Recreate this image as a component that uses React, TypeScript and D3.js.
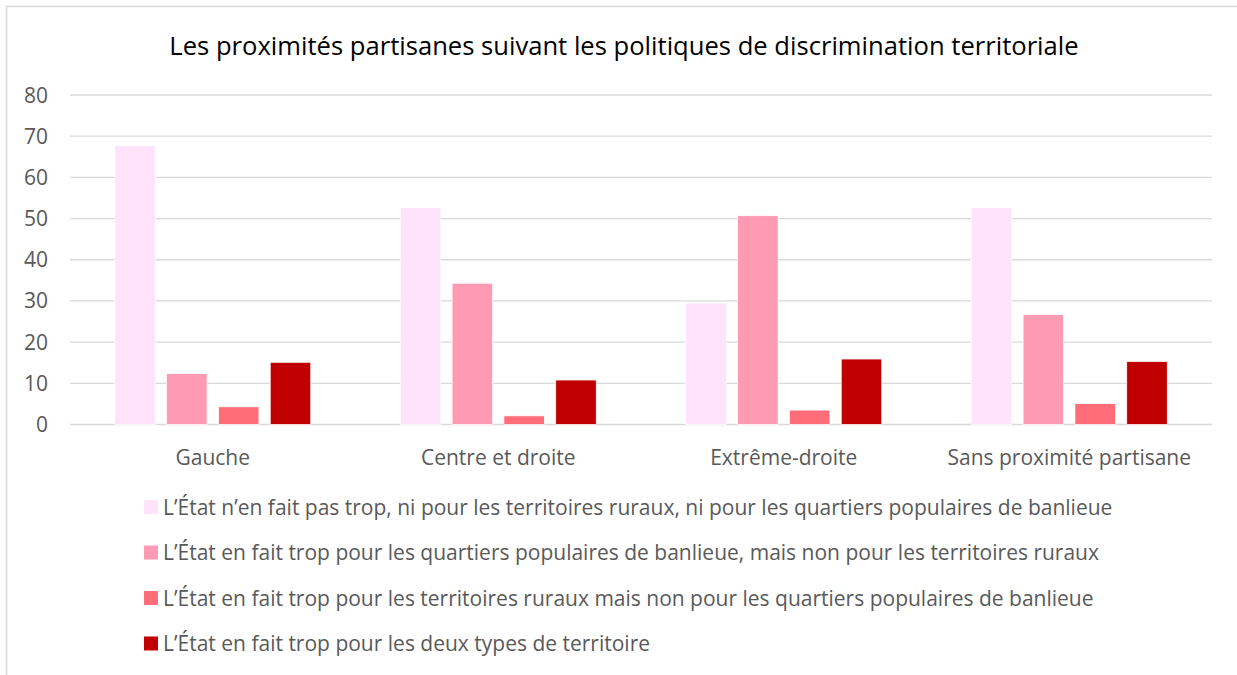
import React from 'react';
import * as d3 from 'd3';

const categories = ['Gauche', 'Centre et droite', 'Extrême-droite', 'Sans proximité partisane'];
const seriesNames = [
  'L’État n’en fait pas trop, ni pour les territoires ruraux, ni pour les quartiers populaires de banlieue',
  'L’État en fait trop pour les quartiers populaires de banlieue, mais non pour les territoires ruraux',
  'L’État en fait trop pour les territoires ruraux mais non pour les quartiers populaires de banlieue',
  'L’État en fait trop pour les deux types de territoire',
];
const pasTrop = [67.7, 52.7, 29.5, 52.7];
const tropBanlieue = [12.4, 34.3, 50.7, 26.7];
const tropRuraux = [4.3, 2.1, 3.5, 5.1];
const tropDeux = [15.1, 10.8, 15.9, 15.3];
const yTicks = [0, 10, 20, 30, 40, 50, 60, 70, 80];
const colors = ['#FEE3FB', '#FF9AB5', '#FF6D78', '#C00000'];

const title = 'Les proximités partisanes suivant les politiques de discrimination territoriale';
const font = '"Open Sans", Lato, sans-serif';

export default function App() {
  const width = 1237;
  const height = 675;
  const plot = { left: 70, right: 1212, top: 95, bottom: 424.5 };

  const series = [pasTrop, tropBanlieue, tropRuraux, tropDeux];

  const x0 = d3.scaleBand().domain(categories).range([plot.left, plot.right]).padding(0);
  const groupPad = 44.75;
  const x1 = d3
    .scaleBand()
    .domain(d3.range(series.length).map(String))
    .range([groupPad, x0.bandwidth() - groupPad])
    .paddingInner(0.218)
    .paddingOuter(0);
  const y = d3.scaleLinear().domain([0, 80]).range([plot.bottom, plot.top]);

  return (
    <svg
      width={width}
      height={height}
      style={{ position: 'absolute', left: 0, top: 0, background: '#fff' }}
      fontFamily={font}
    >
      <rect x={6.5} y={6.5} width={1300} height={700} fill="#fff" stroke="#d9d9d9" strokeWidth={1.5} />

      <text x={624} y={55} textAnchor="middle" fontSize={25.6} fill="#000">
        {title}
      </text>

      {/* grid + y labels */}
      <g>
        {yTicks.map((t) => (
          <g key={t}>
            <line x1={plot.left} x2={plot.right} y1={y(t)} y2={y(t)} stroke="#d9d9d9" strokeWidth={1.3} />
            <text x={48} y={y(t)} dy="0.36em" textAnchor="end" fontSize={21} fill="#595959">
              {t}
            </text>
          </g>
        ))}
      </g>

      {/* bars */}
      <g>
        {categories.map((c, i) => (
          <g key={c} transform={`translate(${x0(c)},0)`}>
            {series.map((s, j) => (
              <rect
                key={j}
                x={x1(String(j))}
                y={y(s[i])}
                width={x1.bandwidth()}
                height={y(0) - y(s[i])}
                fill={colors[j]}
                stroke="#fff"
                strokeWidth={0.75}
              />
            ))}
          </g>
        ))}
      </g>

      {/* x labels */}
      <g>
        {categories.map((c) => (
          <text
            key={c}
            x={(x0(c) as number) + x0.bandwidth() / 2}
            y={465}
            textAnchor="middle"
            fontSize={21}
            fill="#595959"
          >
            {c}
          </text>
        ))}
      </g>

      {/* legend */}
      <g>
        {seriesNames.map((n, j) => {
          const cy = 507 + j * 45.5;
          return (
            <g key={n}>
              <rect x={144} y={cy - 7} width={14} height={14} fill={colors[j]} />
              <text x={163} y={cy} dy="0.36em" fontSize={21} fill="#595959">
                {n}
              </text>
            </g>
          );
        })}
      </g>
    </svg>
  );
}
